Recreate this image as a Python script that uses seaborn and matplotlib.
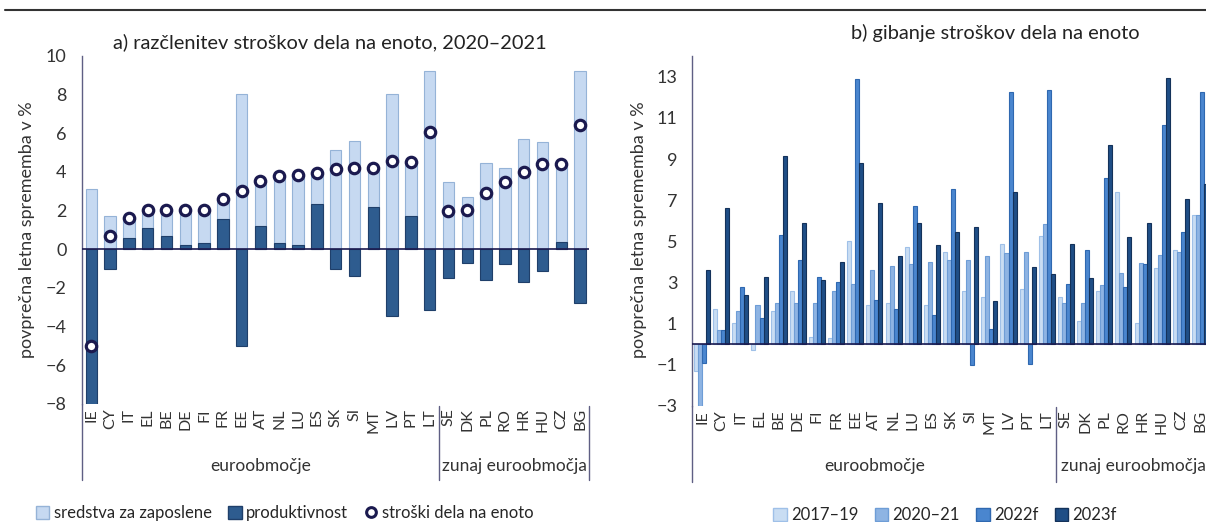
import matplotlib
matplotlib.use("Agg")
import matplotlib.pyplot as plt
import pandas as pd
import seaborn as sns
from matplotlib.lines import Line2D
from matplotlib.patches import Patch

COUNTRIES = ["IE", "CY", "IT", "EL", "BE", "DE", "FI", "FR", "EE", "AT", "NL", "LU", "ES",
             "SK", "SI", "MT", "LV", "PT", "LT", "SE", "DK", "PL", "RO", "HR", "HU", "CZ", "BG"]
N_EURO = 19

# a) breakdown 2020-2021
COMPENSATION = [3.1, 1.7, 1.0, 0.9, 1.3, 1.8, 1.75, 1.05, 8.0, 2.3, 3.5, 3.65, 1.6,
                5.15, 5.6, 2.0, 8.0, 2.8, 9.2, 3.45, 2.7, 4.45, 4.2, 5.7, 5.55, 4.05, 9.2]
PRODUCTIVITY = [-8.1, -1.0, 0.6, 1.1, 0.7, 0.2, 0.3, 1.55, -5.0, 1.2, 0.3, 0.2, 2.35,
                -1.0, -1.4, 2.2, -3.45, 1.7, -3.15, -1.5, -0.7, -1.6, -0.75, -1.7, -1.15, 0.35, -2.8]
ULC = [-5.0, 0.7, 1.6, 2.0, 2.0, 2.0, 2.05, 2.6, 3.0, 3.5, 3.8, 3.85, 3.95,
       4.15, 4.2, 4.2, 4.55, 4.5, 6.05, 1.95, 2.0, 2.9, 3.45, 4.0, 4.4, 4.4, 6.4]

# b) unit labour cost growth
PERIODS = ["2017–19", "2020–21", "2022f", "2023f"]
ULC_2017_19 = [-1.3, 1.7, 1.0, -0.3, 1.6, 2.6, 0.35, 0.3, 5.0, 1.9, 2.0, 4.7, 1.9,
               4.5, 2.6, 2.3, 4.85, 2.7, 5.25, 2.3, 1.1, 2.6, 7.4, 1.0, 3.7, 4.6, 6.3]
ULC_2020_21 = [-3.0, 0.7, 1.6, 1.9, 2.0, 2.0, 2.0, 2.6, 2.9, 3.6, 3.8, 3.9, 4.0,
               4.1, 4.1, 4.3, 4.45, 4.5, 5.85, 2.0, 2.0, 2.85, 3.45, 3.95, 4.35, 4.5, 6.3]
ULC_2022 = [-0.9, 0.7, 2.8, 1.25, 5.3, 4.1, 3.25, 3.0, 12.9, 2.15, 1.7, 6.7, 1.4,
            7.55, -1.0, 0.75, 12.25, -0.95, 12.35, 2.9, 4.6, 8.1, 2.8, 3.9, 10.65, 5.45, 12.25]
ULC_2023 = [3.6, 6.6, 2.4, 3.25, 9.15, 5.9, 3.1, 4.0, 8.8, 6.85, 4.3, 5.9, 4.8,
            5.45, 5.7, 2.1, 7.4, 3.75, 3.4, 4.85, 3.2, 9.7, 5.2, 5.9, 12.95, 7.05, 7.8]

LIGHT, LIGHT_EDGE = "#C6D9F1", "#95B3D7"
DARK, DARK_EDGE = "#2E5C8F", "#1F3F6A"
NAVY = "#1B1A4F"
AXIS = "#5F5F84"
INK = "#333333"
PERIOD_FILL = ["#C9DDF3", "#8EB4E3", "#4A86CF", "#1F4E86"]
PERIOD_EDGE = ["#9FC0E8", "#6E9DD6", "#2F68B0", "#14325A"]

sns.set_theme(style="white", rc={"axes.spines.top": False, "axes.spines.right": False})
plt.rcParams["font.family"] = ["Lato", "DejaVu Sans"]

df_a = pd.DataFrame({"country": COUNTRIES, "compensation": COMPENSATION,
                     "productivity": PRODUCTIVITY, "ulc": ULC})
# stacked look: light segment sits on top of a positive productivity bar
df_a["light_top"] = df_a["compensation"] + df_a["productivity"].clip(lower=0)

series_b = [ULC_2017_19, ULC_2020_21, ULC_2022, ULC_2023]
df_b = pd.DataFrame({
    "country": COUNTRIES * len(PERIODS),
    "period": [p for p in PERIODS for _ in COUNTRIES],
    "value": [v for s in series_b for v in s],
})

fig = plt.figure(figsize=(12.06, 5.22), dpi=100)
ax_a = fig.add_axes([0.0679, 0.2261, 0.4209, 0.6672])
ax_b = fig.add_axes([0.5742, 0.2228, 0.4288, 0.6693])

# panel a
sns.barplot(data=df_a, x="country", y="light_top", color=LIGHT, saturation=1, width=0.6,
            edgecolor=LIGHT_EDGE, linewidth=0.8, errorbar=None, ax=ax_a)
sns.barplot(data=df_a, x="country", y="productivity", color=DARK, saturation=1, width=0.6,
            edgecolor=DARK_EDGE, linewidth=0.8, errorbar=None, ax=ax_a)
sns.pointplot(data=df_a, x="country", y="ulc", linestyle="none", marker="o", color=NAVY,
              markerfacecolor="white", markersize=7.5, markeredgewidth=2.3,
              errorbar=None, ax=ax_a)
ax_a.set_ylim(-8, 10)
ax_a.set_yticks(range(-8, 11, 2))

# panel b
sns.barplot(data=df_b, x="country", y="value", hue="period", hue_order=PERIODS,
            palette=dict(zip(PERIODS, PERIOD_FILL)), saturation=1, width=0.84, gap=0,
            linewidth=0.8, errorbar=None, legend=False, ax=ax_b)
for cont, edge in zip(ax_b.containers, PERIOD_EDGE):
    for bar in cont:
        bar.set_edgecolor(edge)
ax_b.set_ylim(-3, 14)
ax_b.set_yticks(range(-3, 14, 2))

for ax, ext, txt_y in ((ax_a, -0.218, -0.178), (ax_b, -0.218, -0.173)):
    ax.set_xlim(-0.5, len(COUNTRIES) - 0.5)
    ax.axhline(0, color=NAVY, linewidth=1.2, zorder=3)
    ax.spines["bottom"].set_visible(False)
    ax.spines["left"].set_color(AXIS)
    ax.spines["left"].set_linewidth(1.0)
    ax.set_xlabel("")
    ax.set_ylabel("povprečna letna sprememba v %", fontsize=13, color=INK)
    ax.tick_params(axis="x", rotation=90, length=0, pad=3, labelsize=11.5, colors=INK)
    ax.tick_params(axis="y", length=0, pad=11, labelsize=13, colors=INK)
    trans = ax.get_xaxis_transform()
    ax.plot([-0.5, -0.5], [0, ext], transform=trans, color=AXIS, lw=1.0, clip_on=False)
    for xs in (N_EURO - 0.5, len(COUNTRIES) - 0.5):
        ax.plot([xs, xs], [-0.005, ext], transform=trans, color=AXIS, lw=1.0, clip_on=False)
    ax.text((N_EURO - 1) / 2, txt_y, "euroobmočje", transform=trans,
            ha="center", va="center", fontsize=12.5, color=INK)
    ax.text(N_EURO + (len(COUNTRIES) - N_EURO - 1) / 2, txt_y, "zunaj euroobmočja",
            transform=trans, ha="center", va="center", fontsize=12.5, color=INK)

ax_a.yaxis.set_label_coords(-0.093, 0.5)
ax_b.yaxis.set_label_coords(-0.088, 0.503)

fig.text(330 / 1206, 1 - 42 / 522, "a) razčlenitev stroškov dela na enoto, 2020–2021",
         ha="center", va="center", fontsize=14.4, color="#222222")
fig.text(995 / 1206, 1 - 33 / 522, "b) gibanje stroškov dela na enoto",
         ha="center", va="center", fontsize=14.4, color="#222222")
fig.add_artist(Line2D([5 / 1206, 1], [1 - 10 / 522] * 2, color="#333333", lw=1.5))

handles_a = [
    Patch(facecolor=LIGHT, edgecolor=LIGHT_EDGE, label="sredstva za zaposlene"),
    Patch(facecolor=DARK, edgecolor=DARK_EDGE, label="produktivnost"),
    Line2D([], [], linestyle="none", marker="o", color=NAVY, markerfacecolor="white",
           markersize=7, markeredgewidth=2.2, label="stroški dela na enoto"),
]
fig.legend(handles=handles_a, loc="center left", bbox_to_anchor=(36 / 1206, 1 - 513 / 522),
           ncol=3, frameon=False, fontsize=12, handlelength=0.8, handleheight=0.8,
           handletextpad=0.25, columnspacing=1.0, borderaxespad=0, borderpad=0)
handles_b = [Patch(facecolor=f, edgecolor=e, label=p)
             for p, f, e in zip(PERIODS, PERIOD_FILL, PERIOD_EDGE)]
fig.legend(handles=handles_b, loc="center", bbox_to_anchor=(945 / 1206, 1 - 515 / 522),
           ncol=4, frameon=False, fontsize=12, handlelength=0.8, handleheight=0.8,
           handletextpad=0.25, columnspacing=1.0, borderaxespad=0, borderpad=0)

fig.savefig("out.png", dpi=100)
